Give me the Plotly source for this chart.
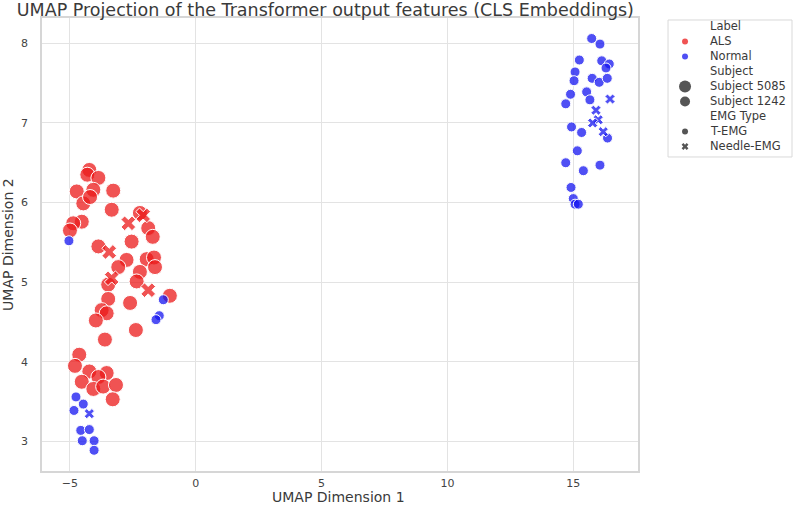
import plotly.graph_objects as go

title_text = "UMAP Projection of the Transformer output features (CLS Embeddings)"

# ALS points (Subject 5085)
als_temg_x = [-4.23, -4.31, -3.87, -4.73, -4.07, -3.28, -4.47, -4.20, -3.34, -2.22,
              -4.53, -4.87, -5.00, -1.89, -1.71, -2.55, -3.87, -2.75, -3.08, -1.95,
              -1.66, -1.62, -2.22, -3.48, -2.35, -3.48, -1.03, -2.61, -3.74, -3.54,
              -3.97, -2.38, -3.61, -4.63, -4.80, -4.23, -3.54, -3.87, -4.53, -4.07,
              -3.68, -3.17, -3.30]
als_temg_y = [6.41, 6.35, 6.31, 6.14, 6.16, 6.15, 5.99, 6.07, 5.91, 5.87,
              5.76, 5.74, 5.65, 5.68, 5.57, 5.51, 5.45, 5.28, 5.19, 5.29,
              5.31, 5.19, 5.13, 4.97, 5.01, 4.79, 4.83, 4.74, 4.65, 4.61,
              4.52, 4.40, 4.28, 4.09, 3.95, 3.88, 3.86, 3.81, 3.75, 3.66,
              3.69, 3.71, 3.53]
als_needle_x = [-2.09, -2.68, -3.44, -3.34, -1.89]
als_needle_y = [5.84, 5.74, 5.38, 5.05, 4.90]

# Normal points (Subject 1242)
normal_temg_x = [-5.04, -1.29, -1.45, -1.58, -4.76, -4.47, -4.84, -4.57, -4.23, -4.51,
                 -4.04, -4.04,
                 15.73, 16.06, 15.24, 16.13, 16.43, 16.30, 15.07, 15.03, 15.75, 16.03,
                 16.35, 15.53, 14.89, 14.70, 15.66, 14.93, 15.33, 16.36, 15.16, 14.70,
                 16.06, 15.40, 14.91, 15.00, 15.07, 15.20]
normal_temg_y = [5.52, 4.78, 4.58, 4.53, 3.56, 3.47, 3.39, 3.14, 3.15, 3.01,
                 3.01, 2.89,
                 8.06, 7.99, 7.79, 7.78, 7.74, 7.69, 7.64, 7.53, 7.56, 7.51,
                 7.56, 7.39, 7.36, 7.24, 7.29, 6.95, 6.88, 6.81, 6.65, 6.50,
                 6.47, 6.40, 6.19, 6.05, 5.98, 5.98]
normal_needle_x = [-4.23, 16.46, 15.90, 15.99, 15.77, 16.19]
normal_needle_y = [3.35, 7.30, 7.16, 7.04, 7.00, 6.89]

x_ticks = [-5, 0, 5, 10, 15]
y_ticks = [3, 4, 5, 6, 7, 8]

legend_labels = ["Label", "ALS", "Normal", "Subject", "Subject 5085", "Subject 1242",
                 "EMG Type", "T-EMG", "Needle-EMG"]

RED = "rgba(235,25,25,0.75)"
BLUE = "rgba(20,20,240,0.75)"
GREY = "#555555"
TXT = "#3a3a3a"
FONT = "DejaVu Sans"

fig = go.Figure()

def add_group(x, y, color, size, symbol):
    fig.add_trace(go.Scatter(
        x=x, y=y, mode="markers", showlegend=False,
        marker=dict(color=color, size=size, symbol=symbol,
                    line=dict(color="white", width=1))))

add_group(als_temg_x, als_temg_y, RED, 15, "circle")
add_group(als_needle_x, als_needle_y, RED, 13, "x")
add_group(normal_temg_x, normal_temg_y, BLUE, 10, "circle")
add_group(normal_needle_x, normal_needle_y, BLUE, 9, "x")

# hand-built legend on a helper axis (seaborn style section headers)
legend_style = [None, (RED, 6, "circle"), (BLUE, 6, "circle"), None,
                (GREY, 12, "circle"), (GREY, 10, "circle"), None,
                (GREY, 6, "circle"), (GREY, 6, "x")]
row_y = [6.5 + 15 * i for i in range(len(legend_labels))]
for lab, st, ry in zip(legend_labels, legend_style, row_y):
    if st is not None:
        fig.add_trace(go.Scatter(
            x=[17], y=[ry], xaxis="x2", yaxis="y2", mode="markers", showlegend=False,
            hoverinfo="skip",
            marker=dict(color=st[0], size=st[1], symbol=st[2], line=dict(width=0))))
    fig.add_annotation(x=39.5, y=ry, xref="x2", yref="y2", text=lab, showarrow=False,
                       xanchor="left", yanchor="middle",
                       font=dict(family=FONT, size=11.5, color=TXT))

fig.add_shape(type="rect", xref="x2 domain", yref="y2 domain", x0=0, x1=1, y0=0, y1=1,
              line=dict(color="#d9d9d9", width=1), fillcolor="white", layer="below")

# x axis title placed as a paper annotation (sits tight under the tick labels)
fig.add_annotation(x=0.3947, y=0.004, xref="paper", yref="paper", text="UMAP Dimension 1",
                   showarrow=False, xanchor="center", yanchor="middle",
                   font=dict(family=FONT, size=14, color=TXT))

axis_common = dict(showgrid=True, gridcolor="#e3e3e3", gridwidth=1, zeroline=False,
                   showline=True, linecolor="#d6d6d6", linewidth=1.5, mirror=True,
                   tickfont=dict(family=FONT, size=11, color="#444444"))

fig.update_layout(
    width=798, height=505,
    margin=dict(l=42, r=6, t=12, b=6),
    paper_bgcolor="white", plot_bgcolor="white",
    font=dict(family=FONT, color=TXT),
    title=dict(text=title_text, xref="container", x=0.021, xanchor="left",
               yref="container", y=0.980, yanchor="middle",
               font=dict(family=FONT, size=17.5, color=TXT)),
    xaxis=dict(domain=[0, 0.7943], range=[-6.11, 17.56], tickvals=x_ticks,
               ticklabelstandoff=1, automargin=False,
               **axis_common),
    yaxis=dict(domain=[0.0575, 0.9871], range=[2.63, 8.314], tickvals=y_ticks,
               ticklabelstandoff=10, automargin=False,
               title=dict(text="UMAP Dimension 2", standoff=5,
                          font=dict(family=FONT, size=14, color=TXT)),
               **axis_common),
    xaxis2=dict(domain=[0.8347, 1.0], range=[0, 124], visible=False, fixedrange=True),
    yaxis2=dict(domain=[0.7023, 0.9836], range=[137, 0], visible=False, fixedrange=True),
)

fig.write_html("out.html", config={"displayModeBar": False},
               post_script="document.body.style.margin='0';")
